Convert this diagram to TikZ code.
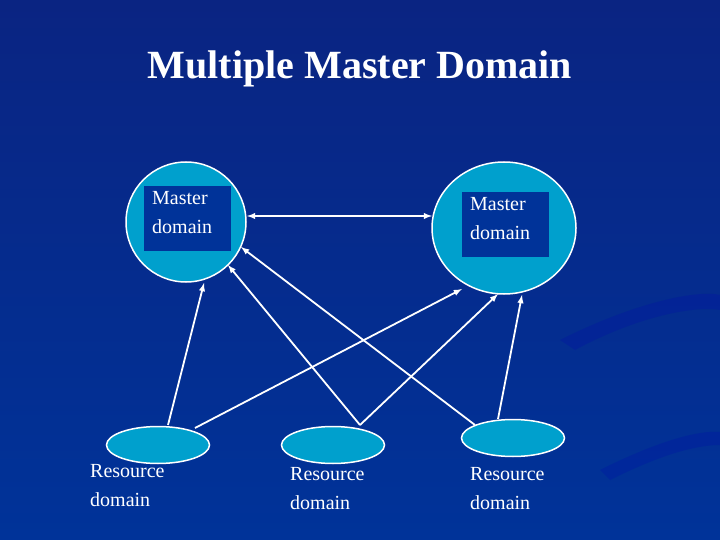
\documentclass[tikz,border=0pt]{standalone}
\usepackage{fontspec}
\usetikzlibrary{shapes.geometric}
\setmainfont{Liberation Serif}
\definecolor{bub}{RGB}{0,160,205}
\definecolor{boxc}{RGB}{0,51,153}
\begin{document}
\begin{tikzpicture}[x=1pt,y=-1pt,
  bub/.style={draw=white,line width=1.5pt,fill=bub,ellipse,inner sep=0pt},
  box/.style={fill=boxc,draw=none},
  lab/.style={text=white,font=\fontsize{20}{29}\selectfont,align=left,anchor=north west,inner sep=0pt},
  arr/.style={draw=white,line width=1.8pt,-latex}]
\shade[top color={rgb,255:red,10;green,36;blue,130},bottom color={rgb,255:red,0;green,51;blue,153}] (0,0) rectangle (720,540);
\useasboundingbox (0,0) rectangle (720,540);
\fill[blue!70!black,opacity=0.2] (560,340) .. controls (640,300) and (700,290) .. (720,295) -- (720,310) .. controls (690,305) and (630,320) .. (575,350) -- cycle;
\fill[blue!70!black,opacity=0.2] (600,470) .. controls (660,440) and (700,430) .. (720,432) -- (720,445) .. controls (690,445) and (650,460) .. (610,480) -- cycle;
\node (title) [text=white,font=\bfseries\fontsize{40}{44}\selectfont] at (360,69) {Multiple Master Domain};
\node (m1) [bub,minimum width=120,minimum height=120] at (186,222) {};
\node (m2) [bub,minimum width=144,minimum height=132] at (504,228) {};
\fill[box] (144,186) rectangle (231,251);
\fill[box] (462,192) rectangle (549,257);
\node (t1) [lab] at (152,191) {Master\\domain};
\node (t2) [lab] at (470,197) {Master\\domain};
\node (r1) [bub,minimum width=103,minimum height=37] at (158,445) {};
\node (r2) [bub,minimum width=103,minimum height=37] at (333,445) {};
\node (r3) [bub,minimum width=103,minimum height=37] at (513,438) {};
\node (l1) [lab] at (90,464) {Resource\\domain};
\node (l2) [lab] at (290,467) {Resource\\domain};
\node (l3) [lab] at (470,467) {Resource\\domain};
\coordinate (a1) at (247,216); \coordinate (a2) at (432,216);
\draw[arr,latex-latex] (a1) -- (a2);
\coordinate (s1) at (168,425); \coordinate (e1) at (204,283);
\coordinate (s2) at (195,428); \coordinate (e2) at (462,289);
\coordinate (s3) at (360,425); \coordinate (e3) at (228,265);
\coordinate (e4) at (498,294);
\coordinate (s5) at (475,425); \coordinate (e5) at (241,247);
\coordinate (s6) at (498,419); \coordinate (e6) at (522,295);
\draw[arr] (s1) -- (e1);
\draw[arr] (s2) -- (e2);
\draw[arr] (s3) -- (e3);
\draw[arr] (s3) -- (e4);
\draw[arr] (s5) -- (e5);
\draw[arr] (s6) -- (e6);
\end{tikzpicture}
\end{document}
